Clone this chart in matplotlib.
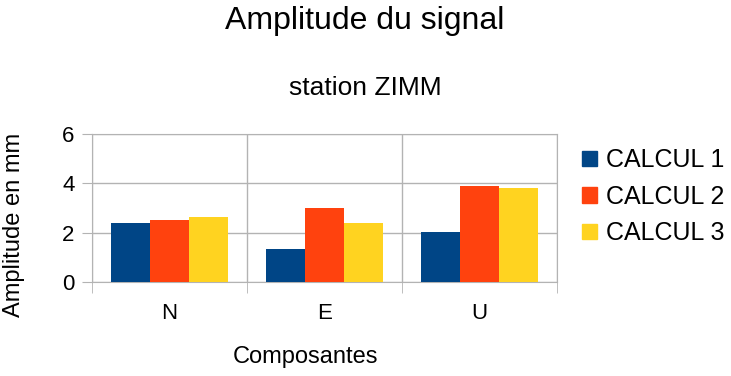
import numpy as np
import matplotlib
matplotlib.use("Agg")
from matplotlib import pyplot as plt
from matplotlib.patches import Patch

plt.rcParams['font.family'] = ['Liberation Sans', 'DejaVu Sans']

categories = ['N', 'E', 'U']
calcul1 = [2.38, 1.34, 2.03]
calcul2 = [2.51, 3.00, 3.89]
calcul3 = [2.63, 2.38, 3.81]
series_names = ['CALCUL 1', 'CALCUL 2', 'CALCUL 3']
colors = ['#004586', '#ff420e', '#ffd320']

fig = plt.figure(figsize=(7.31, 3.76), dpi=100)
ax = fig.add_axes([0.1259, 0.25, 0.636, 0.3936])

x = np.arange(len(categories))
w = 0.25
for i, vals in enumerate([calcul1, calcul2, calcul3]):
    ax.bar(x + (i - 1) * w, vals, width=w, color=colors[i], zorder=3)

ax.set_xlim(-0.5, len(categories) - 0.5)
ax.set_ylim(0, 6)
ax.set_yticks([0, 2, 4, 6])
ax.set_xticks(x)
ax.set_xticklabels(categories)
ax.tick_params(axis='both', labelsize=16, colors='#b3b3b3', labelcolor='black')
ax.tick_params(axis='x', length=0, pad=15)
ax.tick_params(axis='y', length=7.5, pad=5)

# category separators, running down past the axis like ticks
ax.set_xticks([-0.5, 0.5, 1.5, 2.5], minor=True)
ax.tick_params(axis='x', which='minor', length=8, color='#b3b3b3')
ax.grid(axis='y', color='#b3b3b3', lw=1, zorder=0)
ax.grid(axis='x', which='minor', color='#b3b3b3', lw=1, zorder=0)
for s in ax.spines.values():
    s.set_color('#b3b3b3')

ax.set_ylabel('Amplitude en mm', fontsize=17)
ax.yaxis.set_label_coords(-0.144, 0.385)
ax.set_xlabel('Composantes', fontsize=17, labelpad=16)
ax.xaxis.label.set_x(0.46)

fig.text(0.4995, 0.945, 'Amplitude du signal', ha='center', va='center', fontsize=23)
fig.text(0.4995, 0.765, 'station ZIMM', ha='center', va='center', fontsize=19)

handles = [Patch(color=c) for c in colors]
fig.legend(handles, series_names, loc='upper left', bbox_to_anchor=(0.783, 0.632),
           frameon=False, fontsize=18, handlelength=0.58, handleheight=0.58,
           handletextpad=0.35, labelspacing=0.5, borderaxespad=0)

fig.savefig('out.png', dpi=100)
